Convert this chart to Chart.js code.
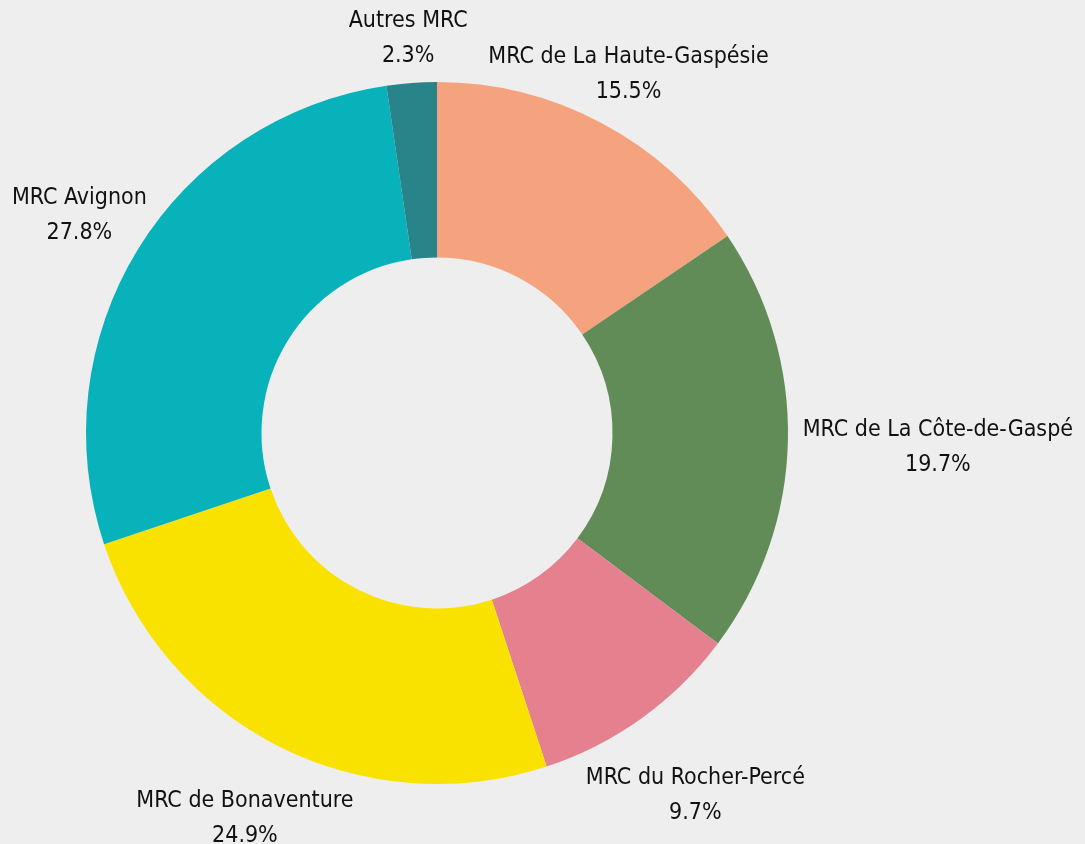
<!DOCTYPE html>
<html>
<head>
<meta charset="utf-8">
<script src="https://cdn.jsdelivr.net/npm/chart.js@4"></script>
<style>
    body { margin: 0; background: #eeeeee; }
    #wrap { width: 1085px; height: 844px; }
</style>
</head>
<body>
<div id="wrap"><canvas id="mrc-chart"></canvas></div>
<script>
const regions = [
    "MRC de La Haute-Gaspésie",
    "MRC de La Côte-de-Gaspé",
    "MRC du Rocher-Percé",
    "MRC de Bonaventure",
    "MRC Avignon",
    "Autres MRC"
];
const shares = [15.5, 19.7, 9.7, 24.9, 27.8, 2.3];
const sliceColors = ["#f5a27e", "#618c58", "#e5808f", "#f9e200", "#08b2bb", "#288489"];

const labelFont = '23px "DejaVu Sans Condensed", "Liberation Sans Narrow", sans-serif';
const lineGap = 17.5; // half the distance between the two text lines
const halfLine = 12;  // half height of a text line
const ringGap = 14;   // space kept between text and the ring

// distance from point (px,py) to nearest point of a rectangle
function rectDist(px, py, x0, y0, x1, y1) {
    const dx = Math.max(x0 - px, 0, px - x1);
    const dy = Math.max(y0 - py, 0, py - y1);
    return Math.sqrt(dx * dx + dy * dy);
}

// draws "name / xx.x%" outside each slice, moved out along the middle angle
// until neither line of text touches the ring
const outsideLabels = {
    id: "outsideLabels",
    afterDatasetsDraw(chart) {
        const ctx = chart.ctx;
        const meta = chart.getDatasetMeta(0);
        ctx.save();
        ctx.font = labelFont;
        ctx.fillStyle = "#111";
        ctx.textAlign = "center";
        ctx.textBaseline = "middle";
        meta.data.forEach((arc, i) => {
            const mid = (arc.startAngle + arc.endAngle) / 2;
            const lines = [regions[i], shares[i].toFixed(1) + "%"];
            const widths = lines.map(t => ctx.measureText(t).width);
            const cos = Math.cos(mid), sin = Math.sin(mid);
            let x = 0, y = 0;
            for (let d = arc.outerRadius; d < arc.outerRadius + 400; d++) {
                x = arc.x + cos * d;
                y = arc.y + sin * d + 3;
                const r1 = rectDist(arc.x, arc.y, x - widths[0] / 2, y - lineGap - halfLine, x + widths[0] / 2, y - lineGap + halfLine);
                const r2 = rectDist(arc.x, arc.y, x - widths[1] / 2, y + lineGap - halfLine, x + widths[1] / 2, y + lineGap + halfLine);
                if (Math.min(r1, r2) >= arc.outerRadius + ringGap) break;
            }
            ctx.fillText(lines[0], x, y - lineGap);
            ctx.fillText(lines[1], x, y + lineGap);
        });
        ctx.restore();
    }
};

new Chart(document.getElementById("mrc-chart"), {
    type: "doughnut",
    data: {
        labels: regions,
        datasets: [{
            data: shares,
            backgroundColor: sliceColors,
            borderWidth: 0
        }]
    },
    options: {
        responsive: true,
        maintainAspectRatio: false,
        animation: false,
        cutout: "50%",
        layout: {
            padding: { top: 82, bottom: 60, left: 86, right: 297 }
        },
        plugins: {
            legend: { display: false },
            tooltip: { enabled: false }
        }
    },
    plugins: [outsideLabels]
});
</script>
</body>
</html>
